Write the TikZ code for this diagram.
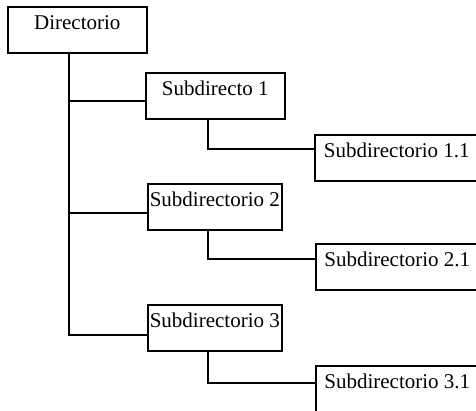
\documentclass[tikz,border=0pt]{standalone}
\usepackage{fontspec}
\setmainfont{Liberation Serif}
\usetikzlibrary{calc}
\begin{document}
\begin{tikzpicture}[x=1pt,y=-1pt,
  box/.style={draw,line width=1.6pt,rectangle,anchor=north west,inner xsep=0pt,inner ysep=0pt,
    text height=23pt,text depth=23pt,font=\fontsize{21}{24}\selectfont},
  conn/.style={line width=1.5pt}]
\useasboundingbox (0,0) rectangle (476,411);
\clip (0,0) rectangle (476,411);
\fill[white] (0,0) rectangle (476,411);
\node[box,minimum width=139pt] (dir) at (7,6) {Directorio};
\node[box,minimum width=139pt] (s1) at (145,72) {Subdirecto 1};
\node[box,minimum width=164pt] (s11) at (314,134) {Subdirectorio 1.1};
\node[box,minimum width=134pt] (s2) at (147,183) {Subdirectorio 2};
\node[box,minimum width=163pt] (s21) at (315,243) {Subdirectorio 2.1};
\node[box,minimum width=134pt] (s3) at (147,304) {Subdirectorio 3};
\node[box,minimum width=163pt] (s31) at (315,365) {Subdirectorio 3.1};
\coordinate (tx) at (69,0);
\coordinate (cx) at (208,0);
\draw[conn] (tx |- dir.south) -- ($(tx |- s3.west)+(0,7)$) -- ($(s3.west)+(0,7)$);
\draw[conn] ($(tx |- s1.west)+(0,5)$) -- ($(s1.west)+(0,5)$);
\draw[conn] ($(tx |- s2.west)+(0,6)$) -- ($(s2.west)+(0,6)$);
\draw[conn] (cx |- s1.south) |- ($(s11.west)+(0,-9)$);
\draw[conn] (cx |- s2.south) |- ($(s21.west)+(0,-8)$);
\draw[conn] (cx |- s3.south) |- ($(s31.west)+(0,-6)$);
\end{tikzpicture}
\end{document}
